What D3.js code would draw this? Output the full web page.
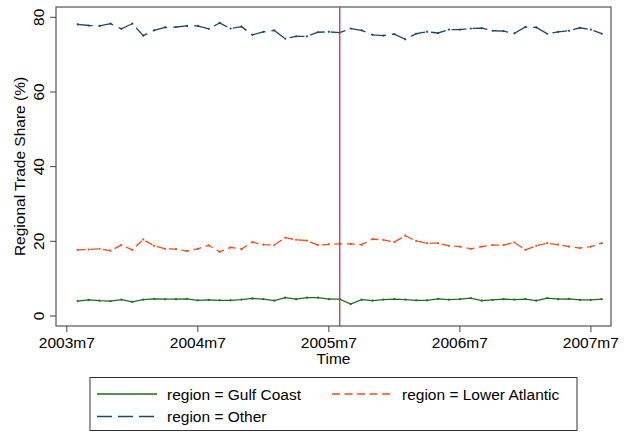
<!doctype html>
<html>
    <head>
        <script src="https://cdn.jsdelivr.net/npm/d3@7/dist/d3.min.js" charset="utf-8"></script>
        <style>
            body { margin: 0; background: #fff; }
            svg { font-family: "Liberation Sans", Arial, sans-serif; }
        </style>
    </head>
    <body>
        <script type="text/javascript">
            // monthly observations, 2003m8 .. 2007m8 (49 months)
            var start_year = 2003, start_month = 8;
            var tick_labels = ['2003m7', '2004m7', '2005m7', '2006m7', '2007m7'];
            var y_ticks = [0, 20, 40, 60, 80];
            var event_month = '2005m8';

            var gulf_coast = [4.0, 4.3, 4.1, 4.0, 4.4, 3.8, 4.4, 4.6, 4.5, 4.5, 4.6, 4.2, 4.3,
                4.2, 4.2, 4.4, 4.7, 4.5, 4.1, 4.9, 4.5, 4.9, 4.9, 4.5, 4.5, 3.2, 4.4, 4.1,
                4.4, 4.5, 4.4, 4.2, 4.2, 4.6, 4.4, 4.5, 4.8, 4.1, 4.3, 4.5, 4.4, 4.5, 4.1,
                4.8, 4.5, 4.6, 4.3, 4.3, 4.5];
            var lower_atlantic = [17.7, 17.8, 18.0, 17.5, 19.0, 17.7, 20.5, 18.8, 18.0, 17.9, 17.4,
                18.0, 18.9, 17.2, 18.4, 17.9, 19.8, 19.1, 19.0, 21.0, 20.4, 20.2, 19.0, 19.2,
                19.3, 19.3, 19.1, 20.6, 20.4, 19.8, 21.5, 20.1, 19.5, 19.5, 18.8, 18.6, 18.0,
                18.6, 19.0, 19.0, 19.7, 17.7, 18.8, 19.5, 19.1, 18.6, 18.2, 18.6, 19.5];
            var other = [78.1, 77.8, 77.7, 78.3, 76.9, 78.3, 75.1, 76.5, 77.3, 77.4, 77.7, 77.7,
                76.9, 78.5, 77.0, 77.5, 75.3, 76.1, 76.5, 74.3, 74.9, 74.9, 76.0, 76.1, 75.9,
                77.0, 76.5, 75.3, 75.1, 75.5, 74.1, 75.6, 76.1, 75.8, 76.7, 76.7, 77.0, 77.1,
                76.4, 76.3, 75.7, 77.4, 77.3, 75.6, 76.1, 76.4, 77.2, 76.7, 75.6];

            var series = [
                {name: 'region = Gulf Coast', values: gulf_coast, color: '#1a6e1a', dash: null},
                {name: 'region = Lower Atlantic', values: lower_atlantic, color: '#ff4a14', dash: '8,4.5'},
                {name: 'region = Other', values: other, color: '#1a476f', dash: '15,6'}
            ];

            // turn "2005m8" into a month index counted from 2003m8
            function month_index(label) {
                var parts = label.split('m');
                return (+parts[0] - start_year) * 12 + (+parts[1] - start_month);
            }

            var width = 630, height = 432;
            var font_size = 15.5;
            var svg = d3.select('body').append('svg')
                .attr('width', width).attr('height', height);

            var frame = {left: 56, right: 611, top: 7, bottom: 326};
            var x = d3.scaleLinear().domain([-1, 48]).range([66.8, 601.8]);
            var y = d3.scaleLinear().domain([0, 80]).range([316, 17.3]);

            // plot region outline
            svg.append('rect')
                .attr('x', frame.left).attr('y', frame.top)
                .attr('width', frame.right - frame.left).attr('height', frame.bottom - frame.top)
                .attr('fill', 'none').attr('stroke', '#444').attr('stroke-width', 1.1);

            // y axis
            var y_axis = svg.append('g');
            y_ticks.forEach(function(t) {
                y_axis.append('line')
                    .attr('x1', frame.left - 6).attr('x2', frame.left)
                    .attr('y1', y(t)).attr('y2', y(t))
                    .attr('stroke', '#444');
                y_axis.append('text')
                    .attr('transform', 'translate(' + (frame.left - 12) + ',' + y(t) + ') rotate(-90)')
                    .attr('text-anchor', 'middle')
                    .attr('font-size', font_size)
                    .text(t);
            });
            svg.append('text')
                .attr('transform', 'translate(25,' + ((frame.top + frame.bottom) / 2) + ') rotate(-90)')
                .attr('text-anchor', 'middle')
                .attr('font-size', font_size)
                .text('Regional Trade Share (%)');

            // x axis
            var x_axis = svg.append('g');
            tick_labels.forEach(function(lbl) {
                var px = x(month_index(lbl));
                x_axis.append('line')
                    .attr('x1', px).attr('x2', px)
                    .attr('y1', frame.bottom).attr('y2', frame.bottom + 6)
                    .attr('stroke', '#444');
                x_axis.append('text')
                    .attr('x', px).attr('y', frame.bottom + 22)
                    .attr('text-anchor', 'middle')
                    .attr('font-size', font_size)
                    .text(lbl);
            });
            svg.append('text')
                .attr('x', (frame.left + frame.right) / 2).attr('y', frame.bottom + 38)
                .attr('text-anchor', 'middle')
                .attr('font-size', font_size)
                .text('Time');

            // the lines
            var line = d3.line()
                .x(function(d, i) { return x(i); })
                .y(function(d) { return y(d); });

            series.forEach(function(s) {
                svg.append('path')
                    .datum(s.values)
                    .attr('d', line)
                    .attr('fill', 'none')
                    .attr('stroke', s.color)
                    .attr('stroke-width', 1.3)
                    .attr('stroke-dasharray', s.dash);
                svg.append('g').selectAll('circle')
                    .data(s.values).enter().append('circle')
                    .attr('cx', function(d, i) { return x(i); })
                    .attr('cy', function(d) { return y(d); })
                    .attr('r', 1.1)
                    .attr('fill', s.color);
            });

            // event line
            svg.append('line')
                .attr('x1', x(month_index(event_month))).attr('x2', x(month_index(event_month)))
                .attr('y1', frame.top).attr('y2', frame.bottom)
                .attr('stroke', '#c8325a').attr('stroke-width', 1.3);

            // legend
            var legend = svg.append('g');
            legend.append('rect')
                .attr('x', 90).attr('y', 377.5).attr('width', 487).attr('height', 53)
                .attr('fill', '#fff').attr('stroke', '#333').attr('stroke-width', 1);
            var slots = [[97, 394], [332, 394], [97, 416.5]];
            series.forEach(function(s, i) {
                var p = slots[i];
                legend.append('line')
                    .attr('x1', p[0]).attr('x2', p[0] + 60)
                    .attr('y1', p[1]).attr('y2', p[1])
                    .attr('stroke', s.color).attr('stroke-width', 1.3)
                    .attr('stroke-dasharray', s.dash);
                legend.append('text')
                    .attr('x', p[0] + 70).attr('y', p[1] + 5.5)
                    .attr('font-size', font_size)
                    .text(s.name);
            });
        </script>
    </body>
</html>
